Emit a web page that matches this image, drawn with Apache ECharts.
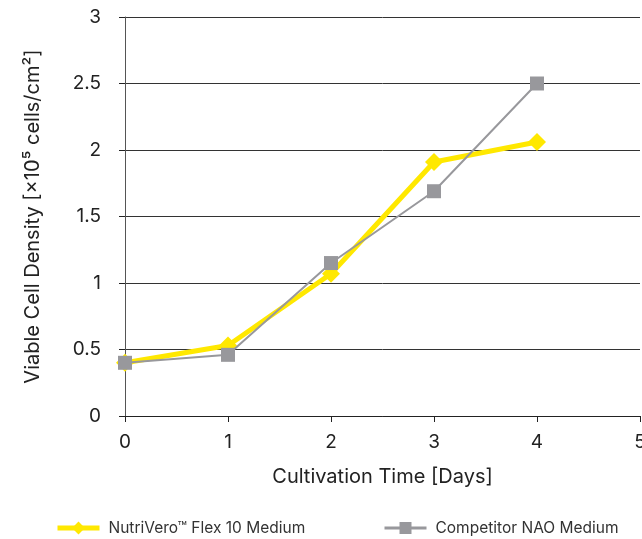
<!DOCTYPE html>
<html><head><meta charset="utf-8">
<script src="https://cdn.jsdelivr.net/npm/echarts@6/dist/echarts.min.js"></script>
<style>html,body{margin:0;padding:0;background:#fff}#c{width:642px;height:539px}</style>
</head><body><div id="c"></div>
<script>
const days = [0, 1, 2, 3, 4];
const nutriVero = [0.40, 0.53, 1.07, 1.91, 2.06];
const competitor = [0.40, 0.46, 1.15, 1.69, 2.50];
const seriesNames = ['NutriVero™ Flex 10 Medium', 'Competitor NAO Medium'];
const xTitle = 'Cultivation Time [Days]';
const yTitle = 'Viable Cell Density [×10⁵ cells/cm²]';

const font = 'Inter, "Noto Sans", sans-serif';
const chart = echarts.init(document.getElementById('c'), null, {renderer: 'canvas'});
chart.setOption({
  animation: false,
  grid: {left: 125, right: 2, top: 17, bottom: 123, containLabel: false, outerBoundsMode: 'none'},
  xAxis: {
    type: 'value', min: 0, max: 5, interval: 1,
    name: xTitle, nameLocation: 'middle', nameGap: 51,
    nameTextStyle: {fontFamily: font, fontSize: 20, color: '#222'},
    axisLine: {show: true, onZero: false, lineStyle: {color: '#222', width: 1}},
    axisTick: {show: true, length: 6, lineStyle: {color: '#222'}},
    axisLabel: {fontFamily: font, fontSize: 19, color: '#222', margin: 17, showMaxLabel: true},
    splitLine: {show: false}
  },
  yAxis: {
    type: 'value', min: 0, max: 3, interval: 0.5,
    name: yTitle, nameLocation: 'middle', nameGap: 82,
    nameTextStyle: {fontFamily: font, fontSize: 20, color: '#222'},
    axisLine: {show: true, lineStyle: {color: '#555', width: 1}},
    axisTick: {show: true, length: 6, lineStyle: {color: '#222'}},
    axisLabel: {fontFamily: font, fontSize: 19, color: '#222', margin: 24},
    splitLine: {show: true, lineStyle: {color: '#333', width: 1}}
  },
  legend: [
    {data: [{name: seriesNames[0], lineStyle: {width: 5}}], left: 50, top: 515, itemWidth: 42, itemHeight: 16,
     textStyle: {fontFamily: font, fontSize: 15.5, color: '#333', padding: [0, 0, 0, 4]}, itemGap: 10},
    {data: [{name: seriesNames[1], lineStyle: {width: 3}}], left: 378, top: 515, itemWidth: 42, itemHeight: 15,
     textStyle: {fontFamily: font, fontSize: 15.5, color: '#333', padding: [0, 0, 0, 4]}, itemGap: 10}
  ],
  series: [
    {name: seriesNames[1], type: 'line', data: days.map((d, i) => [d, competitor[i]]),
     symbol: 'rect', symbolSize: 14, z: 2,
     lineStyle: {color: '#98989c', width: 2}, itemStyle: {color: '#98989c'}},
    {name: seriesNames[0], type: 'line', data: days.map((d, i) => [d, nutriVero[i]]),
     symbol: 'diamond', symbolSize: [18, 18], z: 1,
     lineStyle: {color: '#ffe800', width: 5}, itemStyle: {color: '#ffe800'}}
  ]
});
</script></body></html>
